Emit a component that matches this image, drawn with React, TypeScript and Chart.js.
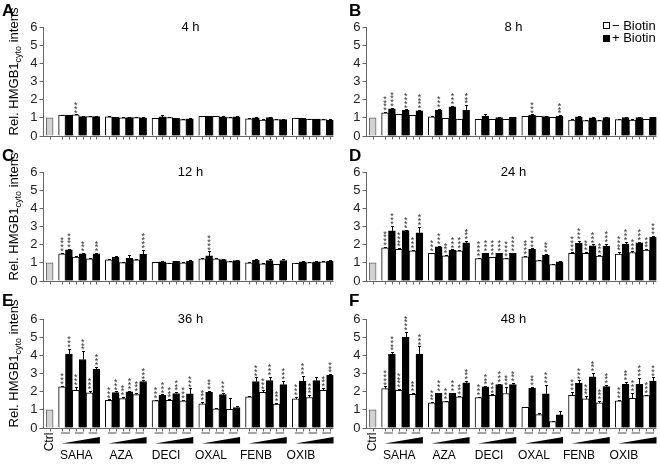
import React, { useEffect, useRef } from 'react';
import { Chart, registerables } from 'chart.js';

Chart.register(...registerables);

// ---------------- data ----------------
const groups = ['SAHA', 'AZA', 'DECI', 'OXAL', 'FENB', 'OXIB'];
const ctrlLabel = 'Ctrl';
const timeLabels = ['4 h', '8 h', '12 h', '24 h', '36 h', '48 h'];
const panelLetters = ['A', 'B', 'C', 'D', 'E', 'F'];
const legendLabels = ['\u2212 Biotin', '+ Biotin'];
const yAxisTitle = ['Rel. HMGB1', 'cyto', ' intens'];
const ctrlValue = 1.0;

// per group order: -Biotin c1, +Biotin c1, -Biotin c2, +Biotin c2, -Biotin c3, +Biotin c3
const vals4h = [1.15, 1.15, 1.16, 1.07, 1.07, 1.07, 1.05, 1.03, 1.0, 1.02, 1.02, 1.0, 0.97, 1.05, 1.02, 0.97, 0.9, 0.95, 1.08, 1.08, 1.08, 1.05, 1.02, 1.05, 0.95, 1.0, 0.88, 1.02, 0.9, 0.9, 0.98, 0.97, 0.93, 0.93, 0.9, 0.88];
const err4h = [0.03, 0.03, 0.03, 0.03, 0.03, 0.03, 0.03, 0.03, 0.03, 0.03, 0.03, 0.03, 0.03, 0.08, 0.03, 0.03, 0.03, 0.03, 0.03, 0.03, 0.03, 0.03, 0.03, 0.03, 0.03, 0.03, 0.03, 0.05, 0.03, 0.03, 0.03, 0.03, 0.03, 0.03, 0.03, 0.03];
const stars4h = [0, 0, 3, 0, 0, 0, 0, 0, 0, 0, 0, 0, 0, 0, 0, 0, 0, 0, 0, 0, 0, 0, 0, 0, 0, 0, 0, 0, 0, 0, 0, 0, 0, 0, 0, 0];

const vals8h = [1.28, 1.5, 1.19, 1.41, 1.14, 1.38, 1.05, 1.41, 0.97, 1.6, 0.93, 1.41, 0.92, 1.1, 0.92, 1.02, 0.92, 1.03, 1.08, 1.15, 1.08, 1.07, 1.03, 1.1, 0.88, 1.05, 0.85, 1.0, 0.85, 1.02, 0.9, 1.02, 0.88, 1.02, 0.92, 1.03];
const err8h = [0.04, 0.05, 0.04, 0.05, 0.04, 0.05, 0.03, 0.08, 0.03, 0.06, 0.03, 0.28, 0.03, 0.1, 0.03, 0.04, 0.03, 0.04, 0.03, 0.04, 0.03, 0.03, 0.03, 0.04, 0.03, 0.04, 0.03, 0.04, 0.03, 0.05, 0.03, 0.04, 0.03, 0.04, 0.03, 0.04];
const stars8h = [4, 4, 0, 4, 0, 4, 0, 3, 0, 3, 0, 3, 0, 0, 0, 0, 0, 0, 0, 3, 0, 0, 0, 3, 0, 0, 0, 0, 0, 0, 0, 0, 0, 0, 0, 0];

const vals12h = [1.5, 1.71, 1.31, 1.49, 1.22, 1.49, 1.16, 1.31, 1.01, 1.25, 1.16, 1.47, 1.03, 1.05, 0.98, 1.08, 1.0, 1.1, 1.22, 1.38, 1.22, 1.18, 1.07, 1.12, 1.0, 1.15, 0.95, 1.12, 0.92, 1.13, 0.98, 1.05, 1.02, 1.05, 1.05, 1.1];
const err12h = [0.05, 0.05, 0.05, 0.05, 0.04, 0.05, 0.04, 0.04, 0.03, 0.2, 0.04, 0.25, 0.03, 0.03, 0.03, 0.04, 0.03, 0.04, 0.04, 0.25, 0.04, 0.03, 0.04, 0.04, 0.03, 0.04, 0.03, 0.08, 0.03, 0.1, 0.03, 0.03, 0.03, 0.03, 0.03, 0.04];
const stars12h = [4, 4, 0, 3, 0, 3, 0, 0, 0, 0, 0, 4, 0, 0, 0, 0, 0, 0, 0, 4, 0, 0, 0, 0, 0, 0, 0, 0, 0, 0, 0, 0, 0, 0, 0, 0];

const vals24h = [1.83, 2.76, 1.75, 2.78, 1.66, 2.65, 1.52, 1.88, 1.39, 1.7, 1.66, 2.1, 1.24, 1.52, 1.3, 1.52, 1.24, 1.52, 1.33, 1.74, 1.12, 1.43, 0.91, 1.06, 1.52, 2.07, 1.52, 1.94, 1.37, 1.92, 1.48, 2.03, 1.57, 2.1, 1.7, 2.4];
const err24h = [0.05, 0.28, 0.05, 0.05, 0.05, 0.35, 0.04, 0.05, 0.04, 0.04, 0.05, 0.1, 0.04, 0.04, 0.04, 0.04, 0.04, 0.04, 0.05, 0.05, 0.04, 0.05, 0.04, 0.04, 0.05, 0.15, 0.07, 0.07, 0.06, 0.12, 0.1, 0.12, 0.06, 0.05, 0.05, 0.08];
const stars24h = [4, 3, 4, 3, 3, 3, 3, 3, 3, 3, 3, 3, 4, 3, 4, 3, 4, 4, 4, 3, 0, 3, 0, 0, 4, 3, 3, 3, 3, 3, 4, 3, 3, 3, 3, 3];

const vals36h = [2.26, 4.07, 2.08, 3.77, 1.93, 3.24, 1.53, 1.95, 1.62, 1.99, 1.84, 2.56, 1.51, 1.8, 1.53, 1.9, 1.49, 1.88, 1.33, 1.97, 1.05, 1.84, 1.03, 1.12, 1.71, 2.56, 1.97, 2.61, 1.31, 2.39, 1.6, 2.58, 1.68, 2.61, 2.08, 2.91];
const err36h = [0.06, 0.3, 0.2, 0.45, 0.12, 0.12, 0.04, 0.06, 0.08, 0.06, 0.08, 0.06, 0.04, 0.05, 0.05, 0.07, 0.06, 0.3, 0.1, 0.06, 0.04, 0.06, 0.6, 0.08, 0.06, 0.22, 0.1, 0.2, 0.06, 0.2, 0.12, 0.3, 0.12, 0.22, 0.12, 0.05];
const stars36h = [3, 3, 3, 3, 3, 3, 3, 3, 3, 3, 3, 3, 3, 3, 3, 3, 3, 3, 3, 3, 0, 3, 0, 0, 0, 3, 3, 3, 3, 3, 3, 3, 3, 0, 3, 3];

const vals48h = [2.17, 4.05, 2.08, 4.99, 1.86, 4.07, 1.38, 1.91, 1.45, 1.91, 1.71, 2.48, 1.68, 2.26, 1.8, 2.39, 1.9, 2.39, 1.14, 2.19, 0.74, 1.88, 0.35, 0.72, 1.8, 2.47, 1.6, 2.82, 1.38, 2.28, 1.49, 2.41, 1.64, 2.41, 1.78, 2.58];
const err48h = [0.12, 0.12, 0.06, 0.3, 0.06, 0.42, 0.04, 0.04, 0.05, 0.04, 0.05, 0.1, 0.04, 0.04, 0.05, 0.05, 0.35, 0.08, 0.03, 0.06, 0.1, 0.5, 0.05, 0.22, 0.2, 0.15, 0.15, 0.2, 0.1, 0.08, 0.06, 0.12, 0.3, 0.35, 0.06, 0.2];
const stars48h = [4, 4, 4, 4, 3, 3, 3, 3, 3, 3, 3, 3, 3, 3, 3, 3, 3, 3, 0, 3, 0, 3, 0, 0, 3, 3, 3, 3, 3, 3, 3, 3, 3, 3, 3, 3];

const panelVals = [vals4h, vals8h, vals12h, vals24h, vals36h, vals48h];
const panelErrs = [err4h, err8h, err12h, err24h, err36h, err48h];
const panelStars = [stars4h, stars8h, stars12h, stars24h, stars36h, stars48h];

// ---------------- layout ----------------
const FONT = '"Liberation Sans", Arial, Helvetica, sans-serif';
const GAP = 0.8;
const X_MIN = -0.9;
const X_MAX = 41.3;
const Y_AXIS_W = 20;

function barPos(i: number) {
  const g = Math.floor(i / 6);
  const j = i % 6;
  return 1 + GAP + g * (6 + GAP) + j;
}

function Panel({ index }: { index: number }) {
  const ref = useRef<HTMLCanvasElement>(null);
  const col = index % 2;
  const row = Math.floor(index / 2);
  const cx = col === 0 ? 0 : 336;
  const cw = col === 0 ? 336 : 324;
  const cy = [0, 140, 286][row];
  const ch = [148, 158, 178][row];
  const areaL = col === 0 ? 43.5 : 30.5;
  const areaR = col === 0 ? 333.5 : 320.5;
  const areaT = [27, 32, 33][row];
  const areaB = [136, 141, 142][row];
  const letterY = [16, 21, 20][row];

  useEffect(() => {
    const canvas = ref.current;
    if (!canvas) return;
    const vals = panelVals[index];
    const errs = panelErrs[index];
    const stars = panelStars[index];
    const points = [{ x: 0, y: ctrlValue }, ...vals.map((v, i) => ({ x: barPos(i), y: v }))];
    const allErr = [0, ...errs];
    const allStars = [0, ...stars];
    const bg = points.map((_, i) => (i === 0 ? '#d2d2d2' : i % 2 === 1 ? '#ffffff' : '#000000'));
    const bd = points.map((_, i) => (i === 0 ? '#666666' : '#000000'));
    const thickness = (areaR - areaL) / (X_MAX - X_MIN);

    const overlay = {
      id: 'overlay' + index,
      afterDatasetsDraw(chart: any) {
        const ctx = chart.ctx as CanvasRenderingContext2D;
        const a = chart.chartArea;
        const xs = chart.scales.x;
        const ys = chart.scales.y;
        ctx.save();
        // baseline + ticks
        ctx.strokeStyle = '#666';
        ctx.lineWidth = 1;
        const by = Math.round(a.bottom) + 0.5;
        ctx.beginPath();
        ctx.moveTo(a.left, by);
        ctx.lineTo(a.right, by);
        points.forEach((p) => {
          const px = Math.round(xs.getPixelForValue(p.x)) + 0.5;
          ctx.moveTo(px, by);
          ctx.lineTo(px, by + 3);
        });
        ctx.stroke();
        // error bars
        ctx.strokeStyle = '#000';
        points.forEach((p, i) => {
          const e = allErr[i];
          if (!e) return;
          const px = Math.round(xs.getPixelForValue(p.x)) + 0.5;
          const y0 = ys.getPixelForValue(p.y);
          const y1 = Math.round(ys.getPixelForValue(p.y + e)) + 0.5;
          ctx.beginPath();
          ctx.moveTo(px, y0);
          ctx.lineTo(px, y1);
          ctx.moveTo(px - 1.5, y1);
          ctx.lineTo(px + 1.5, y1);
          ctx.stroke();
        });
        // significance stars
        ctx.fillStyle = '#333';
        ctx.textAlign = 'center';
        ctx.textBaseline = 'alphabetic';
        const fs = 9;
        ctx.font = `${fs}px ${FONT}`;
        points.forEach((p, i) => {
          const n = allStars[i];
          if (!n) return;
          const px = xs.getPixelForValue(p.x);
          const top = ys.getPixelForValue(p.y + allErr[i]) - 4;
          for (let k = 0; k < n; k++) {
            const c = top - k * 3.8;
            ctx.fillText('*', px, c + 0.57 * fs);
          }
        });
        // title
        ctx.fillStyle = '#000';
        ctx.font = `13px ${FONT}`;
        ctx.textAlign = 'center';
        ctx.textBaseline = 'middle';
        ctx.fillText(timeLabels[index], (a.left + a.right) / 2 + 2, a.top);
        // panel letter
        ctx.font = `bold 17px ${FONT}`;
        ctx.textAlign = 'left';
        ctx.textBaseline = 'alphabetic';
        ctx.fillText(panelLetters[index], col === 0 ? 2 : 13, letterY);
        // y axis title
        if (col === 0) {
          ctx.save();
          const cyT = (a.top + a.bottom) / 2 - 10;
          ctx.translate(18, cyT);
          ctx.rotate(-Math.PI / 2);
          ctx.font = `13px ${FONT}`;
          const w0 = ctx.measureText(yAxisTitle[0]).width;
          const w2 = ctx.measureText(yAxisTitle[2]).width;
          ctx.font = `9px ${FONT}`;
          const w1 = ctx.measureText(yAxisTitle[1]).width;
          let sx = -(w0 + w1 + w2) / 2;
          ctx.textAlign = 'left';
          ctx.font = `13px ${FONT}`;
          ctx.fillText(yAxisTitle[0], sx, 0);
          sx += w0;
          ctx.font = `9px ${FONT}`;
          ctx.fillText(yAxisTitle[1], sx, 3);
          sx += w1;
          ctx.font = `13px ${FONT}`;
          ctx.fillText(yAxisTitle[2], sx, 0);
          ctx.restore();
        }
        // legend
        if (index === 1) {
          ctx.strokeStyle = '#000';
          ctx.lineWidth = 1;
          ctx.strokeRect(267.5, 22.5, 6, 6);
          ctx.fillRect(267, 35, 7, 7);
          ctx.font = `13px ${FONT}`;
          ctx.textBaseline = 'middle';
          ctx.textAlign = 'left';
          ctx.fillText(legendLabels[0], 276, 26);
          ctx.fillText(legendLabels[1], 276, 38.5);
        }
        // bottom category annotations
        if (row === 2) {
          const b = a.bottom;
          ctx.strokeStyle = '#888';
          ctx.lineWidth = 1.5;
          ctx.beginPath();
          for (let g = 0; g < groups.length; g++) {
            for (let c = 0; c < 3; c++) {
              const l = xs.getPixelForValue(barPos(g * 6 + c * 2) - 0.5) + 2.5;
              const r = xs.getPixelForValue(barPos(g * 6 + c * 2 + 1) + 0.5) - 2.5;
              ctx.moveTo(l, b + 5);
              ctx.lineTo(r, b + 5);
            }
          }
          ctx.stroke();
          ctx.fillStyle = '#000';
          for (let g = 0; g < groups.length; g++) {
            const l = xs.getPixelForValue(barPos(g * 6) - 0.5) + 3;
            const r = xs.getPixelForValue(barPos(g * 6 + 5) + 0.5);
            ctx.beginPath();
            ctx.moveTo(l, b + 15.5);
            ctx.lineTo(r, b + 9);
            ctx.lineTo(r, b + 15.5);
            ctx.closePath();
            ctx.fill();
            const gc = (xs.getPixelForValue(barPos(g * 6)) + xs.getPixelForValue(barPos(g * 6 + 5))) / 2;
            ctx.font = `12px ${FONT}`;
            ctx.textAlign = 'center';
            ctx.textBaseline = 'middle';
            ctx.fillText(groups[g], gc - 3 - g * 1.8, b + 28);
          }
          ctx.save();
          ctx.translate(xs.getPixelForValue(0), b + 14);
          ctx.rotate(-Math.PI / 2);
          ctx.font = `12px ${FONT}`;
          ctx.textAlign = 'center';
          ctx.textBaseline = 'middle';
          ctx.fillText(ctrlLabel, 0, 0);
          ctx.restore();
        }
        ctx.restore();
      },
    };

    const chart = new Chart(canvas, {
      type: 'bar',
      data: {
        datasets: [
          {
            data: points as any,
            backgroundColor: bg,
            borderColor: bd,
            borderWidth: 1,
            barThickness: thickness,
          } as any,
        ],
      },
      options: {
        animation: false,
        responsive: false,
        devicePixelRatio: 1,
        events: [],
        layout: {
          padding: { left: areaL - Y_AXIS_W, right: cw - areaR, top: areaT, bottom: ch - areaB },
        },
        plugins: { legend: { display: false }, tooltip: { enabled: false }, title: { display: false } },
        scales: {
          x: { type: 'linear', min: X_MIN, max: X_MAX, display: false, offset: false },
          y: {
            min: 0,
            max: 6,
            ticks: { stepSize: 1, autoSkip: false, color: '#222', padding: 2, font: { family: FONT, size: 13 } },
            grid: { drawOnChartArea: false, drawTicks: true, tickLength: 4, color: '#666' },
            border: { display: true, color: '#666' },
            afterFit: (s: any) => {
              s.width = Y_AXIS_W;
            },
          },
        },
      } as any,
      plugins: [overlay],
    });
    return () => chart.destroy();
  }, [index]);

  return (
    <canvas
      ref={ref}
      width={cw}
      height={ch}
      style={{ position: 'absolute', left: cx, top: cy, width: cw, height: ch }}
    />
  );
}

export default function App() {
  return (
    <div style={{ position: 'absolute', left: 0, top: 0, width: 660, height: 464, background: '#fff', overflow: 'hidden' }}>
      {[0, 1, 2, 3, 4, 5].map((i) => (
        <Panel key={i} index={i} />
      ))}
    </div>
  );
}
